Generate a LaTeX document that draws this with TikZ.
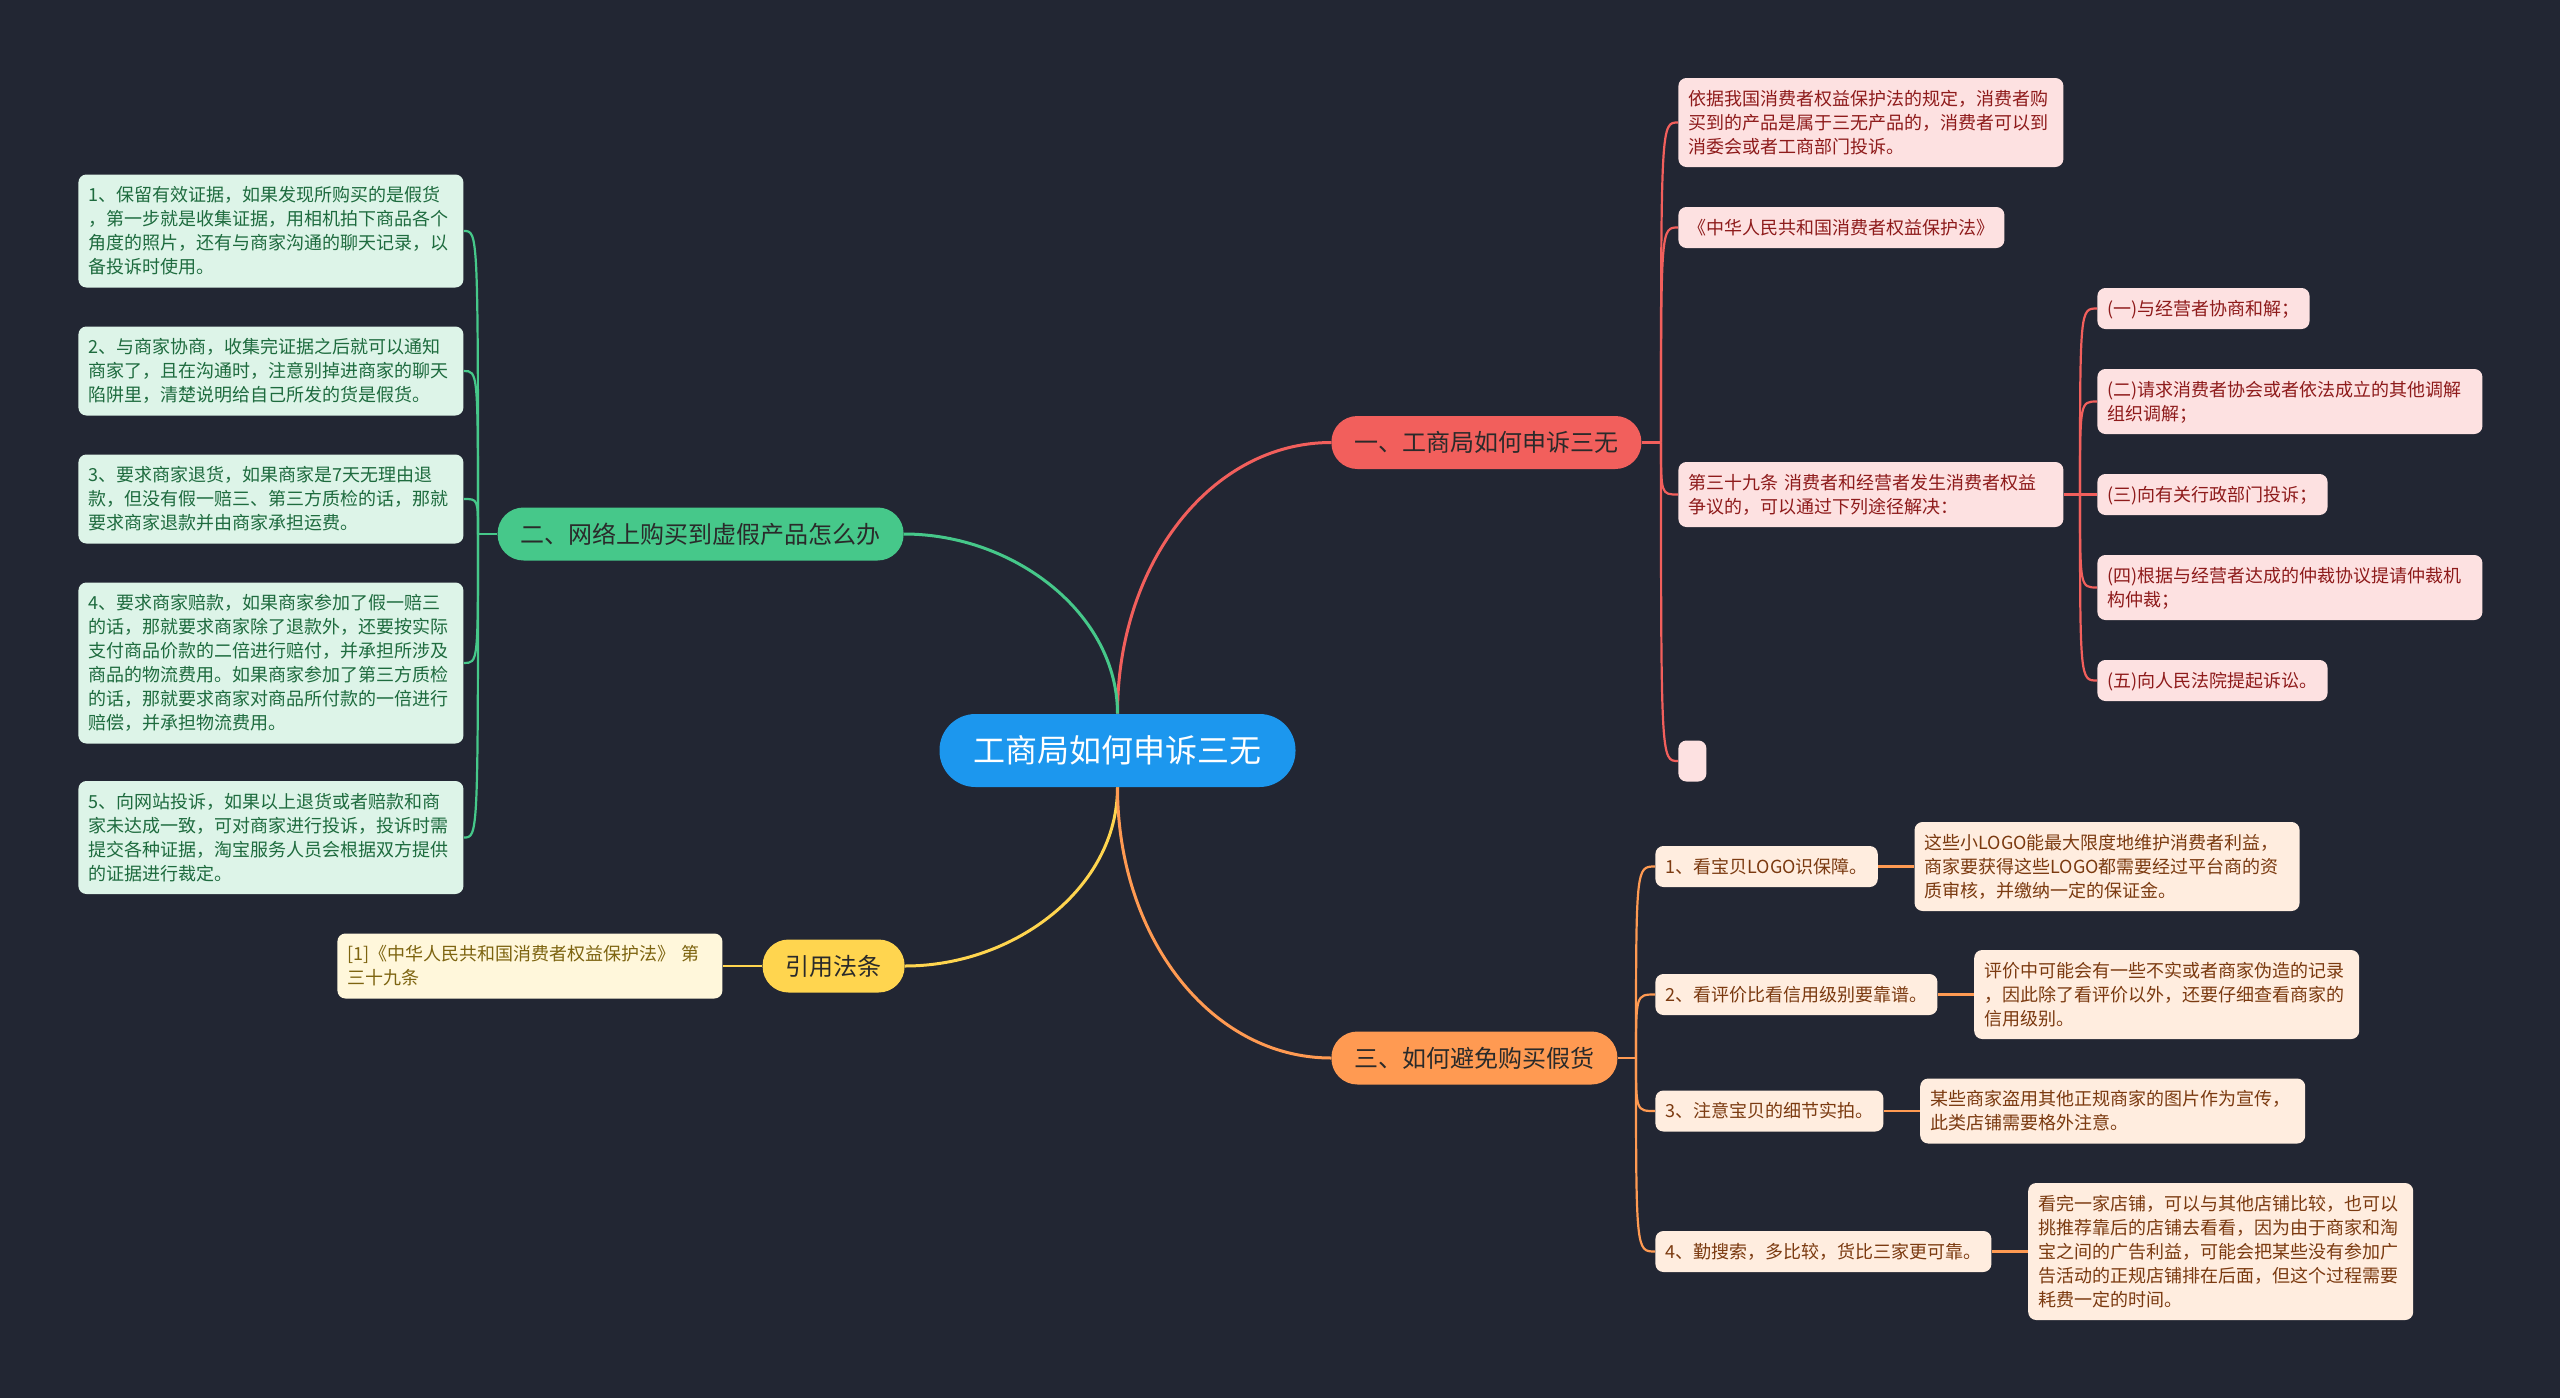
\documentclass[tikz,border=0pt]{standalone}
\usepackage{fontspec}
\setmainfont{Noto Sans CJK SC}
\usetikzlibrary{positioning}
\definecolor{bgcol}{HTML}{222633}
\definecolor{rootcol}{HTML}{1C97EE}
\definecolor{redmain}{HTML}{F25F5C}
\definecolor{greenmain}{HTML}{46C88A}
\definecolor{yellowmain}{HTML}{FFD54F}
\definecolor{orangemain}{HTML}{FF9A52}
\definecolor{redleaf}{HTML}{FDE1E1}
\definecolor{greenleaf}{HTML}{DDF4E8}
\definecolor{yellowleaf}{HTML}{FFF7DB}
\definecolor{orangeleaf}{HTML}{FFEDDF}
\definecolor{redtext}{HTML}{8E1B1B}
\definecolor{greentext}{HTML}{1E6B3E}
\definecolor{yellowtext}{HTML}{7D6410}
\definecolor{orangetext}{HTML}{7B3A10}
\definecolor{maintext}{HTML}{2A2A2A}
\newcommand{\leafstrut}{\rule[-2.6pt]{0pt}{12pt}}

\begin{document}
\begin{tikzpicture}[
  x=0.5pt, y=-0.5pt,
  root/.style={fill=rootcol, text=white, rounded corners=18pt, minimum height=36.5pt,
    inner xsep=17pt, font=\fontsize{16}{18}\selectfont},
  topic/.style={fill=#1, text=maintext, rounded corners=13pt, minimum height=26.5pt,
    inner xsep=11.5pt, font=\fontsize{12}{14}\selectfont},
  leaf/.style={fill=#1leaf, text=#1text, rounded corners=4pt, inner xsep=5pt, inner ysep=4.25pt,
    align=left, font=\fontsize{9}{12}\selectfont,
    execute at begin node=\leafstrut, execute at end node=\leafstrut},
  wide/.style={text width=182.5pt},
  link/.style={draw=#1, line width=1.5pt},
  twig/.style={draw=#1, line width=1.1pt}
]
\fill[bgcol] (0,0) rectangle (2560,1398);

% root and topics
\node[root] (root) at (1117.5,750.5) {工商局如何申诉三无};
\node[topic=redmain, anchor=west] (law) at (1331,442.5) {一、工商局如何申诉三无};
\node[topic=greenmain, anchor=east] (net) at (904,534) {二、网络上购买到虚假产品怎么办};
\node[topic=yellowmain, anchor=east] (cite) at (905,966) {引用法条};
\node[topic=orangemain, anchor=west] (avoid) at (1331,1058) {三、如何避免购买假货};

\draw[link=redmain] (root.north) .. controls +(0,-150) and +(-120,0) .. (law.west);
\draw[link=greenmain] (root.north) .. controls +(0,-100) and +(110,0) .. (net.east);
\draw[link=yellowmain] (root.south) .. controls +(0,100) and +(110,0) .. (cite.east);
\draw[link=orangemain] (root.south) .. controls +(0,150) and +(-120,0) .. (avoid.west);

% branch one
\node[leaf=red, wide, anchor=west] (r1) at (1678,122.5) {依据我国消费者权益保护法的规定，消费者购\\买到的产品是属于三无产品的，消费者可以到\\消委会或者工商部门投诉。};
\node[leaf=red, anchor=west] (r2) at (1678,227.5) {《中华人民共和国消费者权益保护法》};
\node[leaf=red, wide, anchor=west] (r3) at (1678,494.5) {第三十九条 消费者和经营者发生消费者权益\\争议的，可以通过下列途径解决：};
\node[leaf=red, minimum width=14pt, anchor=west] (r4) at (1678,761) {};

\node[leaf=red, anchor=west] (c1) at (2097,308.5) {(一)与经营者协商和解；};
\node[leaf=red, wide, anchor=west] (c2) at (2097,401.5) {(二)请求消费者协会或者依法成立的其他调解\\组织调解；};
\node[leaf=red, anchor=west] (c3) at (2097,494.5) {(三)向有关行政部门投诉；};
\node[leaf=red, wide, anchor=west] (c4) at (2097,587.5) {(四)根据与经营者达成的仲裁协议提请仲裁机\\构仲裁；};
\node[leaf=red, anchor=west] (c5) at (2097,680.5) {(五)向人民法院提起诉讼。};

\coordinate (rbus) at (1661,442.5);
\coordinate (cbus) at (2080,494.5);
\draw[twig=redmain] (law.east) -- (rbus);
\foreach \n in {r1,r2,r3,r4}
  \draw[twig=redmain] (rbus) .. controls (rbus |- \n.west) .. (\n.west);
\draw[twig=redmain] (r3.east) -- (cbus);
\foreach \n in {c1,c2,c3,c4,c5}
  \draw[twig=redmain] (cbus) .. controls (cbus |- \n.west) .. (\n.west);

% branch two
\node[leaf=green, wide, anchor=west] (g1) at (78,231) {1、保留有效证据，如果发现所购买的是假货\\，第一步就是收集证据，用相机拍下商品各个\\角度的照片，还有与商家沟通的聊天记录，以\\备投诉时使用。};
\node[leaf=green, wide, anchor=west] (g2) at (78,371) {2、与商家协商，收集完证据之后就可以通知\\商家了，且在沟通时，注意别掉进商家的聊天\\陷阱里，清楚说明给自己所发的货是假货。};
\node[leaf=green, wide, anchor=west] (g3) at (78,499) {3、要求商家退货，如果商家是7天无理由退\\款，但没有假一赔三、第三方质检的话，那就\\要求商家退款并由商家承担运费。};
\node[leaf=green, wide, anchor=west] (g4) at (78,663) {4、要求商家赔款，如果商家参加了假一赔三\\的话，那就要求商家除了退款外，还要按实际\\支付商品价款的二倍进行赔付，并承担所涉及\\商品的物流费用。如果商家参加了第三方质检\\的话，那就要求商家对商品所付款的一倍进行\\赔偿，并承担物流费用。};
\node[leaf=green, wide, anchor=west] (g5) at (78,837.5) {5、向网站投诉，如果以上退货或者赔款和商\\家未达成一致，可对商家进行投诉，投诉时需\\提交各种证据，淘宝服务人员会根据双方提供\\的证据进行裁定。};

\coordinate (gbus) at (478,534);
\draw[twig=greenmain] (net.west) -- (gbus);
\foreach \n in {g1,g2,g3,g4,g5}
  \draw[twig=greenmain] (gbus) .. controls (gbus |- \n.east) .. (\n.east);

% citation
\node[leaf=yellow, wide, anchor=west] (y1) at (337,966) {[1]《中华人民共和国消费者权益保护法》 第\\三十九条};
\draw[twig=yellowmain] (cite.west) -- (y1.east);

% branch three
\node[leaf=orange, anchor=west] (o1) at (1655,866.5) {1、看宝贝LOGO识保障。};
\node[leaf=orange, anchor=west] (o2) at (1655,994.5) {2、看评价比看信用级别要靠谱。};
\node[leaf=orange, anchor=west] (o3) at (1655,1111) {3、注意宝贝的细节实拍。};
\node[leaf=orange, anchor=west] (o4) at (1655,1251.5) {4、勤搜索，多比较，货比三家更可靠。};
\node[leaf=orange, wide, right=18pt of o1] (o1d) {这些小LOGO能最大限度地维护消费者利益，\\商家要获得这些LOGO都需要经过平台商的资\\质审核，并缴纳一定的保证金。};
\node[leaf=orange, wide, right=18pt of o2] (o2d) {评价中可能会有一些不实或者商家伪造的记录\\，因此除了看评价以外，还要仔细查看商家的\\信用级别。};
\node[leaf=orange, wide, right=18pt of o3] (o3d) {某些商家盗用其他正规商家的图片作为宣传，\\此类店铺需要格外注意。};
\node[leaf=orange, wide, right=18pt of o4] (o4d) {看完一家店铺，可以与其他店铺比较，也可以\\挑推荐靠后的店铺去看看，因为由于商家和淘\\宝之间的广告利益，可能会把某些没有参加广\\告活动的正规店铺排在后面，但这个过程需要\\耗费一定的时间。};

\coordinate (obus) at (1636,1058);
\draw[twig=orangemain] (avoid.east) -- (obus);
\foreach \n in {o1,o2,o3,o4} {
  \draw[twig=orangemain] (obus) .. controls (obus |- \n.west) .. (\n.west);
  \draw[twig=orangemain] (\n.east) -- (\n d.west);
}
\end{tikzpicture}
\end{document}
